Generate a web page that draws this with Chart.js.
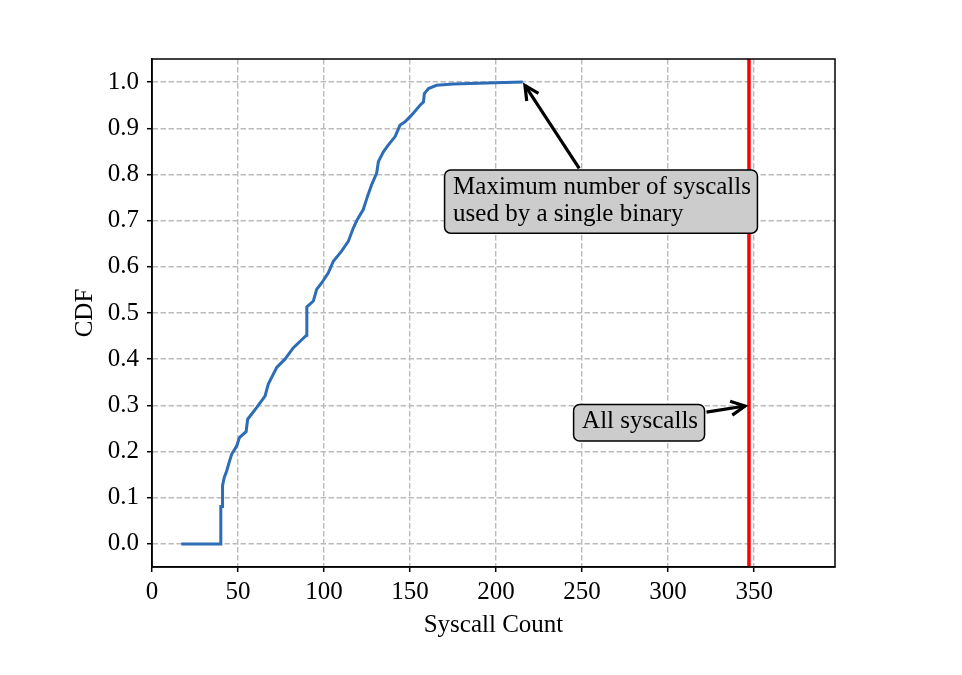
<!DOCTYPE html>
<html><head><meta charset="utf-8">
<script src="https://cdn.jsdelivr.net/npm/chart.js@4"></script>
<style>html,body{margin:0;padding:0;background:#fff}canvas{display:block}</style>
</head><body>
<canvas id="c" width="962" height="675"></canvas>
<script>
// ---- data ----
const syscallCounts = [17, 40, 40, 41, 41, 42, 43.4, 44.8, 46.3, 49.2, 50.8, 54.7, 55.6, 60.8, 65.7, 67.6, 70, 72.5, 77.3, 82.2, 89.8, 90, 93.8, 95.7, 98.6, 102.5, 105.4, 110.2, 114.1, 117, 119.3, 122.8, 125.2, 127.7, 130.6, 131.6, 134.5, 137.4, 141.3, 144.2, 147.1, 151, 155.8, 157.8, 158.3, 160.7, 165.4, 175.2, 194.6, 215.5];
const cdfValues = [0, 0, 0.081, 0.081, 0.126, 0.144, 0.158, 0.176, 0.194, 0.212, 0.23, 0.243, 0.27, 0.295, 0.32, 0.346, 0.364, 0.382, 0.4, 0.425, 0.452, 0.513, 0.526, 0.551, 0.565, 0.587, 0.612, 0.634, 0.655, 0.684, 0.702, 0.724, 0.752, 0.778, 0.803, 0.828, 0.849, 0.864, 0.882, 0.907, 0.914, 0.929, 0.95, 0.957, 0.975, 0.986, 0.993, 0.996, 0.998, 1.0];
const allSyscallsCount = 347;
const xTickValues = [0, 50, 100, 150, 200, 250, 300, 350];
const yTickValues = [0.0, 0.1, 0.2, 0.3, 0.4, 0.5, 0.6, 0.7, 0.8, 0.9, 1.0];
const xAxisMin = 0, xAxisMax = 397;
const yAxisMin = -0.05, yAxisMax = 1.05;
const xAxisTitle = 'Syscall Count';
const yAxisTitle = 'CDF';
const annotationTexts = [["Maximum number of syscalls", "used by a single binary"], ["All syscalls"]];
const annotationTextAt = [[175, 0.7], [250, 0.25]];
const annotationTargets = [[215.5, 1.0], [347, 0.3]];

const FONT = {family: '"Liberation Serif", "Times New Roman", serif', size: 25};

function roundRect(ctx, x, y, w, h, r) {
  ctx.beginPath();
  ctx.moveTo(x + r, y);
  ctx.lineTo(x + w - r, y);
  ctx.arcTo(x + w, y, x + w, y + r, r);
  ctx.lineTo(x + w, y + h - r);
  ctx.arcTo(x + w, y + h, x + w - r, y + h, r);
  ctx.lineTo(x + r, y + h);
  ctx.arcTo(x, y + h, x, y + h - r, r);
  ctx.lineTo(x, y + r);
  ctx.arcTo(x, y, x + r, y, r);
  ctx.closePath();
}

const annotPlugin = {
  id: 'annot',
  afterDatasetsDraw(chart) {
    const {ctx, chartArea: a, scales: {x, y}} = chart;
    ctx.save();
    ctx.strokeStyle = '#000';
    ctx.lineWidth = 1.5;
    ctx.strokeRect(a.left, a.top, a.right - a.left, a.bottom - a.top);
    ctx.font = FONT.size + 'px ' + FONT.family;
    annotationTexts.forEach((lines, i) => {
      const tx = x.getPixelForValue(annotationTextAt[i][0]);
      const ty = y.getPixelForValue(annotationTextAt[i][1]);
      const lh = 26.7;
      const firstBase = ty - lh * (lines.length - 1);
      const w = Math.max(...lines.map(l => ctx.measureText(l).width));
      const bx = tx - 8.5, by = firstBase - 24, bw = w + 15, bh = ty + 12.5 - by;
      // arrow
      const cx = bx + bw / 2, cy = by + bh / 2;
      const px = x.getPixelForValue(annotationTargets[i][0]);
      const py = y.getPixelForValue(annotationTargets[i][1]);
      const dx = px - cx, dy = py - cy;
      const len = Math.hypot(dx, dy);
      const ux = dx / len, uy = dy / len;
      const tX = dx !== 0 ? (bw / 2) / Math.abs(dx) : Infinity;
      const tY = dy !== 0 ? (bh / 2) / Math.abs(dy) : Infinity;
      const t = Math.min(tX, tY);
      const sx = cx + dx * t + ux * 2, sy = cy + dy * t + uy * 2;
      const ex = px - ux * 4, ey = py - uy * 4;
      ctx.strokeStyle = '#000';
      ctx.lineWidth = 3.2;
      ctx.lineCap = 'butt';
      ctx.lineJoin = 'miter';
      ctx.beginPath();
      ctx.moveTo(sx, sy);
      ctx.lineTo(ex, ey);
      ctx.stroke();
      const hl = 14, hw = 7;
      const nx = -uy, ny = ux;
      ctx.beginPath();
      ctx.moveTo(ex - ux * hl + nx * hw, ey - uy * hl + ny * hw);
      ctx.lineTo(ex, ey);
      ctx.lineTo(ex - ux * hl - nx * hw, ey - uy * hl - ny * hw);
      ctx.stroke();
      // box
      roundRect(ctx, bx, by, bw, bh, 6);
      ctx.fillStyle = '#cccccc';
      ctx.fill();
      ctx.lineWidth = 1.5;
      ctx.stroke();
      // text
      ctx.fillStyle = '#000';
      ctx.textAlign = 'left';
      ctx.textBaseline = 'alphabetic';
      lines.forEach((l, k) => ctx.fillText(l, tx, firstBase + k * lh));
    });
    ctx.restore();
  }
};

new Chart(document.getElementById('c'), {
  type: 'scatter',
  data: {
    datasets: [
      {
        label: 'CDF',
        data: syscallCounts.map((v, i) => ({x: v, y: cdfValues[i]})),
        showLine: true,
        borderColor: '#2c6db5',
        borderWidth: 3,
        pointRadius: 0,
        tension: 0,
        fill: false
      },
      {
        label: 'All syscalls',
        data: [{x: allSyscallsCount, y: yAxisMin}, {x: allSyscallsCount, y: yAxisMax}],
        showLine: true,
        borderColor: '#ff0000',
        borderWidth: 3.5,
        pointRadius: 0,
        fill: false
      }
    ]
  },
  options: {
    responsive: false,
    animation: false,
    devicePixelRatio: 1,
    layout: {padding: {top: 59, right: 127, bottom: 0, left: 0}},
    plugins: {legend: {display: false}, tooltip: {enabled: false}},
    scales: {
      x: {
        type: 'linear',
        min: xAxisMin, max: xAxisMax,
        afterBuildTicks: s => { s.ticks = xTickValues.map(v => ({value: v})); },
        afterFit: s => { s.height = 108; },
        ticks: {font: FONT, color: '#000', padding: 5, autoSkip: false, maxRotation: 0, callback: v => String(v)},
        grid: {color: '#bbbbbb', lineWidth: 1.4, tickColor: '#000', tickLength: 5, tickWidth: 1.5, tickBorderDash: []},
        border: {display: true, color: '#000', width: 1.5, dash: [5.5, 2.5]},
        title: {display: true, text: xAxisTitle, font: FONT, color: '#000', padding: {top: 0, bottom: 35}}
      },
      y: {
        type: 'linear',
        min: yAxisMin, max: yAxisMax,
        afterBuildTicks: s => { s.ticks = yTickValues.map(v => ({value: v})); },
        afterFit: s => { s.width = 152; },
        ticks: {font: FONT, color: '#000', padding: 8, autoSkip: false, callback: v => Number(v).toFixed(1)},
        grid: {color: '#bbbbbb', lineWidth: 1.4, tickColor: '#000', tickLength: 5, tickWidth: 1.5, tickBorderDash: []},
        border: {display: true, color: '#000', width: 1.5, dash: [5.5, 2.5]},
        title: {display: true, text: yAxisTitle, font: FONT, color: '#000', padding: {top: 70, bottom: 0}}
      }
    }
  },
  plugins: [annotPlugin]
});
</script>
</body></html>
